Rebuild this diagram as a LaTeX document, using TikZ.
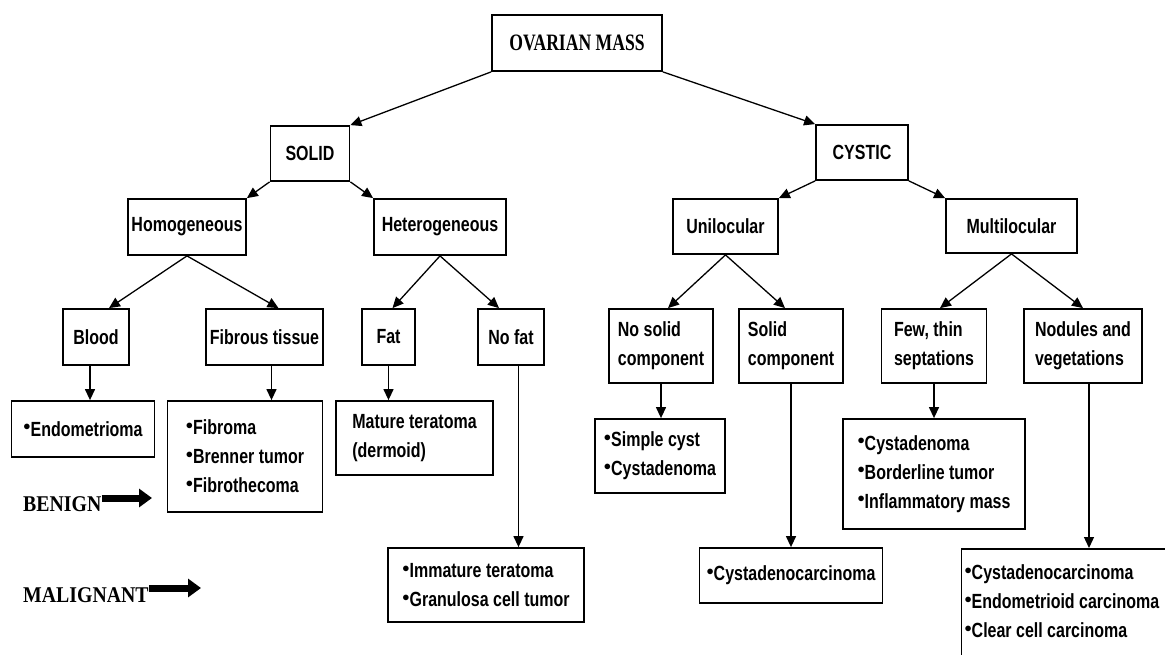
\documentclass[tikz,border=0pt]{standalone}
\usepackage{fontspec}
\usetikzlibrary{arrows.meta}
\newfontfamily\boxfont{Liberation Sans}[FakeStretch=0.78]
\newfontfamily\massfont{Liberation Serif}[FakeStretch=0.75]
\newfontfamily\tagfont{Liberation Serif}[FakeStretch=0.88]
\newcommand{\bul}{\raisebox{0.5ex}{$\scriptstyle\bullet$}}
\begin{document}
\begin{tikzpicture}[x=1pt, y=-1pt,
    box/.style={draw, line width=1.8pt, inner sep=2pt, align=left,
        font=\boxfont\bfseries\fontsize{20.5}{29}\selectfont},
    arr/.style={line width=1.3pt, -{Triangle[length=11pt,width=10pt]}},
    fatarr/.style={line width=7pt, -{Triangle[length=13pt,width=18pt]}},
    tag/.style={anchor=west, inner sep=0pt, font=\tagfont\bfseries\fontsize{22.5}{27}\selectfont}]
    \fill[white] (0,0) rectangle (1165,654);
    \useasboundingbox (0,0) rectangle (1165,654);
    \clip (0,0) rectangle (1165,654);
    \node[box, minimum width=170pt, minimum height=56pt, font=\massfont\bfseries\fontsize{23.5}{27}\selectfont] (mass) at (577,43) {OVARIAN MASS};
    \node[box, minimum width=79pt, minimum height=55pt] (solid) at (310,153.5) {SOLID};
    \node[box, minimum width=92pt, minimum height=55pt] (cystic) at (862,152.5) {CYSTIC};
    \node[box, minimum width=118pt, minimum height=56pt] (homog) at (187,227) {Homogeneous};
    \node[box, minimum width=132pt, minimum height=56pt] (heterog) at (440,227) {Heterogeneous};
    \node[box, minimum width=105pt, minimum height=55pt] (uniloc) at (725.5,226.5) {Unilocular};
    \node[box, minimum width=131pt, minimum height=54pt] (multiloc) at (1011.5,226) {Multilocular};
    \node[box, minimum width=66pt, minimum height=56pt] (blood) at (96,337) {Blood};
    \node[box, minimum width=117pt, minimum height=56pt] (fibrous) at (264.5,337) {Fibrous tissue};
    \node[box, minimum width=53pt, minimum height=56pt] (fat) at (388.5,337) {Fat};
    \node[box, minimum width=66pt, minimum height=56pt] (nofat) at (511,337) {No fat};
    \node[box, minimum width=104pt, minimum height=74pt] (nosolid) at (661,346) {No solid\\component};
    \node[box, minimum width=104pt, minimum height=74pt] (solidcomp) at (791,346) {Solid\\component};
    \node[box, minimum width=105pt, minimum height=74pt] (fewthin) at (934,346) {Few, thin\\septations};
    \node[box, minimum width=118pt, minimum height=74pt] (nodules) at (1083,346) {Nodules and\\vegetations};
    \node[box, minimum width=143pt, minimum height=56pt] (endo) at (83,429) {\bul Endometrioma};
    \node[box, minimum width=155pt, minimum height=111pt] (fibroma) at (245,456.5) {\bul Fibroma\\\bul Brenner tumor\\\bul Fibrothecoma};
    \node[box, minimum width=157pt, minimum height=74pt] (mature) at (414.5,438) {Mature teratoma\\(dermoid)};
    \node[box, minimum width=196pt, minimum height=74pt] (immature) at (486,585) {\bul Immature teratoma\\\bul Granulosa cell tumor};
    \node[box, minimum width=130pt, minimum height=74pt] (simple) at (660,456) {\bul Simple cyst\\\bul Cystadenoma};
    \node[box, minimum width=183pt, minimum height=55pt] (cystcarc) at (791,575.5) {\bul Cystadenocarcinoma};
    \node[box, minimum width=182pt, minimum height=110pt] (cystaden) at (934,474) {\bul Cystadenoma\\\bul Borderline tumor\\\bul Inflammatory mass};
    \node[box, anchor=north west, align=flush left, text width=205pt, inner xsep=3pt, inner ysep=16pt] (carcs) at (960.6,548) {\bul Cystadenocarcinoma\\\bul Endometrioid carcinoma\\\bul Clear cell carcinoma\rule[-20pt]{0pt}{0pt}};
    \draw[arr] (mass.south west) -- (solid.north east);
    \draw[arr] (mass.south east) -- (cystic.north west);
    \draw[arr] (solid.south west) -- (homog.north east);
    \draw[arr] (solid.south east) -- (heterog.north west);
    \draw[arr] (cystic.south west) -- (uniloc.north east);
    \draw[arr] (cystic.south east) -- (multiloc.north west);
    \draw[arr] (homog.south) -- ([xshift=13pt]blood.north);
    \draw[arr] (homog.south) -- ([xshift=14pt]fibrous.north);
    \draw[arr] (heterog.south) -- ([xshift=4pt]fat.north);
    \draw[arr] (heterog.south) -- ([xshift=-12pt]nofat.north);
    \draw[arr] (uniloc.south) -- ([xshift=7pt]nosolid.north);
    \draw[arr] (uniloc.south) -- ([xshift=-6pt]solidcomp.north);
    \draw[arr] (multiloc.south) -- ([xshift=6pt]fewthin.north);
    \draw[arr] (multiloc.south) -- (nodules.north);
    \draw[arr] ([xshift=-6pt]blood.south) -- ([xshift=-6pt]blood.south |- endo.north);
    \draw[arr] ([xshift=7pt]fibrous.south) -- ([xshift=7pt]fibrous.south |- fibroma.north);
    \draw[arr] (fat.south) -- (fat.south |- mature.north);
    \draw[arr] ([xshift=7.5pt]nofat.south) -- ([xshift=7.5pt]nofat.south |- immature.north);
    \draw[arr] (nosolid.south) -- (nosolid.south |- simple.north);
    \draw[arr] (solidcomp.south) -- (solidcomp.south |- cystcarc.north);
    \draw[arr] (fewthin.south) -- (fewthin.south |- cystaden.north);
    \draw[arr] ([xshift=6pt]nodules.south) -- ([xshift=6pt]nodules.south |- carcs.north);
    \node[tag] (benign) at (23,504.5) {BENIGN};
    \coordinate (benigntip) at (152,498);
    \draw[fatarr] (benign.east |- benigntip) -- (benigntip);
    \node[tag] (malig) at (23,595) {MALIGNANT};
    \coordinate (maligtip) at (201,588);
    \draw[fatarr] (malig.east |- maligtip) -- (maligtip);
\end{tikzpicture}
\end{document}
